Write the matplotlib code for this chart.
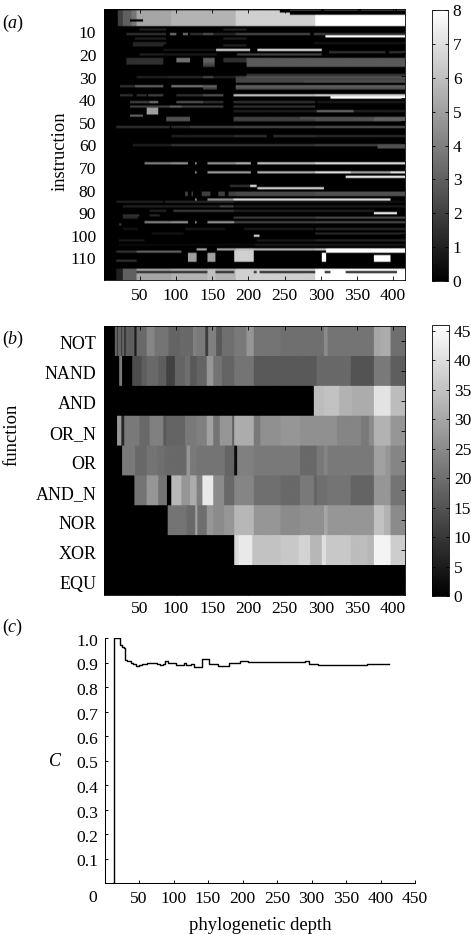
import numpy as np
import matplotlib
matplotlib.use("Agg")
import matplotlib.pyplot as plt
from matplotlib.transforms import ScaledTranslation

plt.rcParams["font.family"] = ["Liberation Serif", "DejaVu Serif"]
plt.rcParams["mathtext.fontset"] = "custom"
plt.rcParams["mathtext.rm"] = "Liberation Serif"
plt.rcParams["mathtext.it"] = "Liberation Serif:italic"

W, H = 471, 935
MAX_DEPTH = 416
N_INSTR = 120

# panel a: long band at the top and bottom of the genome
top_edges = [19, 26, 38, 45, 93, 182, 292, 416]
top_levels = [2, 3, 3.7, 5.2, 5.6, 6.5, 8]
bottom_edges = [17, 26, 45, 93, 143, 154, 182, 292, 416]
bottom_levels = [1, 3, 5.2, 5.6, 6, 5.6, 6.5, 8]

# panel a: instruction -> (from depth, to depth, level)
rows_upper = {
    1: [(257, 301, 5), (304, 352, 5), (355, 403, 5), (405, 416, 5)],
    2: [(243, 416, 0)],
    3: [(257, 416, 0)],
    6: [(36, 54, 0)],
    10: [(49, 86, 1), (165, 197, 1)],
    12: [(31, 86, 1.5), (91, 100, 3.5), (109, 116, 3.5), (119, 137, 1.5), (137, 151, 2.5),
         (151, 182, 1.2), (182, 285, 2.2), (290, 306, 2), (306, 416, 1.5)],
    13: [(306, 416, 8)],
    14: [(43, 86, 1), (165, 197, 1)],
    16: [(40, 86, 1.2), (290, 416, 0.6)],
    17: [(40, 82, 1.2), (165, 197, 1)],
    19: [(82, 155, 0.7), (155, 202, 6.5), (212, 301, 7)],
    20: [(311, 389, 1.5), (394, 416, 1.5)],
    21: [(49, 82, 1), (82, 156, 0.8), (184, 301, 2)],
    23: [(31, 82, 1.5), (100, 119, 3.5), (137, 153, 3), (165, 197, 1.5), (197, 416, 2.8)],
    24: [(31, 82, 1.5), (100, 119, 3.5), (137, 153, 3), (165, 197, 1.5), (197, 416, 2.8)],
    25: [(31, 82, 1.5), (137, 153, 2.5), (197, 416, 2.8)],
    26: [(137, 153, 2), (197, 416, 2.8)],
    30: [(197, 416, 1.5)],
    31: [(45, 89, 1), (89, 137, 1.2), (137, 151, 2.2), (151, 182, 1), (182, 197, 2), (197, 416, 2.5)],
    32: [(182, 416, 2.2)],
    33: [(182, 276, 2.2), (276, 416, 2.5)],
    35: [(22, 43, 1.5), (43, 82, 3), (93, 137, 3.6), (137, 156, 3), (182, 416, 3)],
    36: [(137, 156, 2), (182, 416, 2.5)],
}
rows_middle = {
    39: [(22, 40, 1.5), (45, 59, 1.5), (61, 82, 2), (100, 137, 1.5), (137, 165, 2.5),
         (179, 292, 6), (292, 313, 6.5), (313, 416, 6.5)],
    40: [(313, 416, 8)],
    42: [(36, 63, 2), (63, 75, 3.5), (100, 137, 2.5), (137, 165, 1.5), (179, 292, 1.5), (294, 416, 0.8)],
    44: [(36, 165, 2), (91, 107, 3), (179, 292, 1.5)],
    45: [(59, 75, 5)],
    46: [(59, 75, 5), (179, 294, 1), (294, 345, 3.2), (345, 416, 1)],
    47: [(59, 75, 5)],
    48: [(36, 54, 3)],
    49: [(86, 119, 2.5), (179, 271, 2), (271, 373, 2.5), (373, 416, 3)],
    50: [(86, 119, 2.5), (179, 292, 2), (292, 373, 2.5), (373, 416, 3)],
    53: [(17, 91, 1.5), (93, 119, 1.5), (119, 179, 2), (179, 292, 2.2), (292, 416, 2.5)],
    57: [(93, 179, 1), (179, 225, 1.5), (234, 294, 1.5), (294, 416, 1.3)],
    61: [(40, 93, 1), (93, 179, 1.7), (179, 292, 1.7), (292, 378, 2), (378, 416, 2.5)],
    62: [(378, 416, 2.5)],
    69: [(56, 93, 4), (93, 116, 4.5), (126, 128, 5), (143, 182, 4.5), (182, 203, 5.5), (212, 292, 6), (292, 416, 7)],
    73: [(126, 128, 5), (143, 203, 4.8), (212, 292, 5.5), (292, 341, 7), (341, 396, 5), (396, 416, 7)],
    75: [(334, 416, 7.5)],
    79: [(174, 202, 1.5), (202, 211, 7)],
    80: [(212, 304, 6.5)],
}
rows_lower = {
    82: [(112, 116, 2), (121, 123, 2), (135, 147, 2), (158, 167, 2), (172, 182, 2), (182, 292, 2.3), (292, 416, 2.5)],
    83: [(112, 116, 2), (121, 123, 2), (135, 147, 2), (158, 167, 2), (172, 182, 2), (182, 292, 2.3), (292, 416, 2.5)],
    85: [(126, 128, 5), (143, 179, 4.5), (179, 396, 6.8)],
    86: [(17, 82, 1), (84, 179, 1.2), (179, 416, 0.5)],
    88: [(26, 160, 1), (160, 179, 2), (179, 416, 0.8)],
    90: [(63, 86, 1), (96, 179, 1.8), (179, 373, 1)],
    91: [(373, 405, 7.5)],
    92: [(26, 49, 1.5), (63, 77, 1.2)],
    93: [(26, 47, 1.3), (179, 292, 1.8), (292, 416, 2.2)],
    95: [(56, 93, 4), (93, 116, 4.5), (126, 128, 5), (143, 180, 4.5), (180, 292, 2), (292, 416, 2.2)],
    96: [(21, 24, 2)],
    98: [(26, 47, 0.6), (112, 167, 0.7), (193, 290, 0.8), (292, 416, 1.2)],
    100: [(66, 110, 0.6), (292, 416, 1.2)],
    101: [(207, 215, 6.5)],
    103: [(21, 56, 0.8), (211, 292, 0.8), (292, 416, 1.1)],
    105: [(21, 209, 0.3), (209, 416, 0.8)],
    107: [(128, 142, 5), (156, 182, 5), (182, 207, 6), (207, 292, 5.5), (292, 307, 6), (307, 416, 8)],
    108: [(17, 45, 1.5), (45, 107, 3), (180, 207, 6.5), (307, 416, 8)],
    109: [(116, 128, 5), (143, 154, 5), (180, 207, 6.5), (301, 307, 8)],
    110: [(116, 128, 5), (143, 154, 5), (180, 207, 6.5), (301, 307, 8), (373, 396, 8)],
    111: [(116, 128, 5), (143, 154, 5), (180, 207, 6.5), (301, 307, 8), (373, 396, 8)],
    112: [(17, 45, 1.5), (116, 128, 5), (143, 154, 5), (180, 207, 6.5), (301, 307, 8), (373, 396, 8)],
    117: [(45, 143, 1.5), (154, 180, 1.5), (207, 211, 1.5), (215, 292, 1.5), (305, 313, 1.5), (334, 405, 1.5)],
}

# panel b: depth edges and counts per logic function
functions = ["NOT", "NAND", "AND", "OR_N", "OR", "AND_N", "NOR", "XOR", "EQU"]
not_edges = [15, 18, 19, 24, 25, 28, 30, 42, 45, 59, 70, 89, 105, 123, 128, 140, 144, 155, 163, 180, 197, 207, 244, 304, 309, 373, 382, 396, 416]
not_values = [18, 8, 18, 8, 18, 8, 17, 5, 19, 24, 21, 18, 19, 23, 22, 11, 23, 16, 20, 22, 27, 21, 20, 25, 21, 30, 31, 20]
nand_edges = [21, 25, 39, 39, 52, 59, 75, 86, 98, 112, 119, 128, 142, 151, 163, 180, 207, 244, 294, 341, 373, 396, 416]
nand_values = [22, 0, 0, 14, 17, 19, 17, 12, 18, 20, 16, 18, 27, 21, 18, 21, 16, 16, 19, 15, 22, 17]
and_edges = [290, 304, 325, 343, 373, 396, 416]
and_values = [34, 35, 32, 31, 41, 34]
or_n_edges = [18, 24, 28, 49, 63, 82, 86, 112, 128, 142, 151, 160, 177, 180, 207, 216, 244, 271, 322, 355, 366, 373, 396, 416]
or_n_values = [27, 7, 22, 19, 23, 16, 18, 22, 23, 29, 21, 27, 18, 31, 22, 26, 27, 26, 24, 22, 25, 32, 27]
or_edges = [25, 43, 59, 73, 84, 114, 119, 128, 167, 180, 184, 207, 271, 294, 304, 309, 373, 389, 396, 416]
or_values = [22, 19, 21, 20, 19, 27, 22, 21, 18, 2, 23, 22, 19, 22, 24, 22, 29, 27, 24]
and_n_edges = [42, 59, 75, 87, 93, 107, 119, 128, 136, 151, 166, 180, 207, 244, 271, 290, 294, 308, 341, 373, 396, 416]
and_n_values = [21, 27, 21, 0, 33, 27, 31, 23, 42, 25, 19, 24, 20, 19, 22, 18, 20, 21, 18, 27, 21]
nor_edges = [88, 114, 126, 129, 142, 151, 166, 180, 207, 244, 271, 304, 309, 373, 387, 396, 416]
nor_values = [21, 19, 29, 20, 27, 25, 27, 33, 27, 25, 26, 30, 27, 35, 32, 25]
xor_edges = [180, 186, 205, 244, 269, 285, 301, 307, 341, 364, 373, 396, 416]
xor_values = [39, 42, 35, 36, 38, 33, 40, 36, 34, 33, 44, 37]

# panel c: step curve of C against depth
c_depth = [13, 13.5, 22, 23, 25, 28, 29, 33, 38, 42, 46, 50, 54, 61, 70, 76, 81, 85, 88, 92, 98, 103, 110, 115, 118, 125,
           130, 137, 141, 149, 152, 159, 164, 172, 179, 180, 196, 197, 208, 230, 260, 290, 296, 310, 350, 380, 412]
c_value = [0.0, 1.0, 0.985, 0.97, 0.965, 0.96, 0.91, 0.905, 0.9, 0.895, 0.885, 0.89, 0.893, 0.9, 0.897, 0.892, 0.889, 0.895,
           0.908, 0.9, 0.897, 0.889, 0.888, 0.897, 0.89, 0.895, 0.881, 0.88, 0.914, 0.914, 0.893, 0.893, 0.884, 0.884,
           0.884, 0.9, 0.9, 0.908, 0.903, 0.901, 0.903, 0.905, 0.893, 0.89, 0.888, 0.893, 0.893]
c_yticks = [0.1, 0.2, 0.3, 0.4, 0.5, 0.6, 0.7, 0.8, 0.9, 1.0]


def box(x0, y0, x1, y1):
    return [x0 / W, 1 - y1 / H, (x1 - x0) / W, (y1 - y0) / H]


def fill_band(grid, edges, levels):
    for i, level in enumerate(levels):
        grid[edges[i]:edges[i + 1]] = level


def put_text(x, y, s, **kw):
    fig.text(x / W, 1 - y / H, s, ha=kw.pop("ha", "center"), va=kw.pop("va", "center"), **kw)


def add_colorbar(im, x0, y0, x1, y1, ticks):
    cax = fig.add_axes(box(x0, y0, x1, y1))
    cb = fig.colorbar(im, cax=cax, ticks=ticks)
    cb.outline.set_linewidth(0.6)
    cax.tick_params(direction="in", length=2.5, width=0.6, labelsize=12.5, pad=3.5, left=True, right=True)


def nudge_ylabels(ax, px=2):
    # tick labels sit slightly below their ticks in the original
    shift = ScaledTranslation(0, -px / 100, fig.dpi_scale_trans)
    for lbl in ax.get_yticklabels():
        lbl.set_transform(lbl.get_transform() + shift)


fig = plt.figure(figsize=(W / 100, H / 100), dpi=100)

# (a) instruction heat map
instr = np.zeros((N_INSTR, MAX_DEPTH))
for r in range(1, 8):
    fill_band(instr[r], top_edges, top_levels)
for r in range(115, 120):
    fill_band(instr[r], bottom_edges, bottom_levels)
for rows in (rows_upper, rows_middle, rows_lower):
    for r, segs in rows.items():
        for start, end, level in segs:
            instr[r - 1, start:end] = level

ax_a = fig.add_axes(box(104, 9, 405, 280))
im_a = ax_a.imshow(instr, cmap="gray", vmin=0, vmax=8, aspect="auto", interpolation="hanning",
                   extent=(0.5, MAX_DEPTH + 0.5, N_INSTR + 0.5, 0.5))
ax_a.set_xticks(range(50, 401, 50))
ax_a.set_yticks(range(10, 111, 10))
ax_a.tick_params(axis="x", pad=5.5)
add_colorbar(im_a, 432, 10, 448, 281, range(0, 9))
put_text(60, 151, "instruction", fontsize=13.3, rotation=90)
put_text(2, 23, r"($\mathit{a}$)", fontsize=13, ha="left")

# (b) function heat map
func = np.zeros((len(functions), MAX_DEPTH))
all_edges = [not_edges, nand_edges, and_edges, or_n_edges, or_edges, and_n_edges, nor_edges, xor_edges]
all_values = [not_values, nand_values, and_values, or_n_values, or_values, and_n_values, nor_values, xor_values]
for r, (edges, values) in enumerate(zip(all_edges, all_values)):
    fill_band(func[r], edges, values)

ax_b = fig.add_axes(box(104, 326, 405, 595))
im_b = ax_b.imshow(np.repeat(func, 30, axis=0), cmap="gray", vmin=0, vmax=46, aspect="auto",
                   interpolation="hanning", extent=(0.5, MAX_DEPTH + 0.5, len(functions) + 0.5, 0.5))
ax_b.set_xticks(range(50, 401, 50))
ax_b.set_yticks(range(1, len(functions) + 1))
ax_b.set_yticklabels(functions)
ax_b.tick_params(axis="x", pad=4.5)
add_colorbar(im_b, 432, 325, 449, 596, range(0, 46, 5))
put_text(12, 435, "function", fontsize=13.4, rotation=90)
put_text(2, 339, r"($\mathit{b}$)", fontsize=13, ha="left")

for ax in (ax_a, ax_b):
    ax.tick_params(direction="in", length=3, width=0.6, labelsize=12.6, top=True, right=True)
    ax.tick_params(axis="y", pad=5.5)
    for s in ax.spines.values():
        s.set_linewidth(0.6)
ax_b.tick_params(axis="y", labelsize=13)
nudge_ylabels(ax_a)
nudge_ylabels(ax_b)

# (c) C against phylogenetic depth
ax_c = fig.add_axes(box(104.5, 638, 415, 883))
ax_c.plot(c_depth, c_value, drawstyle="steps-post", color="black", lw=1.0)
ax_c.set_xlim(0, 450)
ax_c.set_ylim(0, 1)
ax_c.set_xticks(range(0, 451, 50))
ax_c.set_xticklabels([""] + [str(v) for v in range(50, 451, 50)])
ax_c.set_yticks(c_yticks)
ax_c.set_yticklabels([f"{v:.1f}" for v in c_yticks])
ax_c.spines["top"].set_visible(False)
ax_c.spines["right"].set_visible(False)
ax_c.spines["left"].set_linewidth(0.75)
ax_c.spines["bottom"].set_linewidth(0.75)
ax_c.tick_params(direction="in", length=2.5, width=0.7, labelsize=12.6)
ax_c.tick_params(axis="x", pad=6)
ax_c.tick_params(axis="y", pad=4.5)
nudge_ylabels(ax_c)
put_text(93, 898, "0", fontsize=12.6)
put_text(260, 926, "phylogenetic depth", fontsize=13.4)
put_text(55, 762, "C", fontsize=13, style="italic")
put_text(2, 627, r"($\mathit{c}$)", fontsize=13, ha="left")

fig.savefig("out.png", dpi=100)
